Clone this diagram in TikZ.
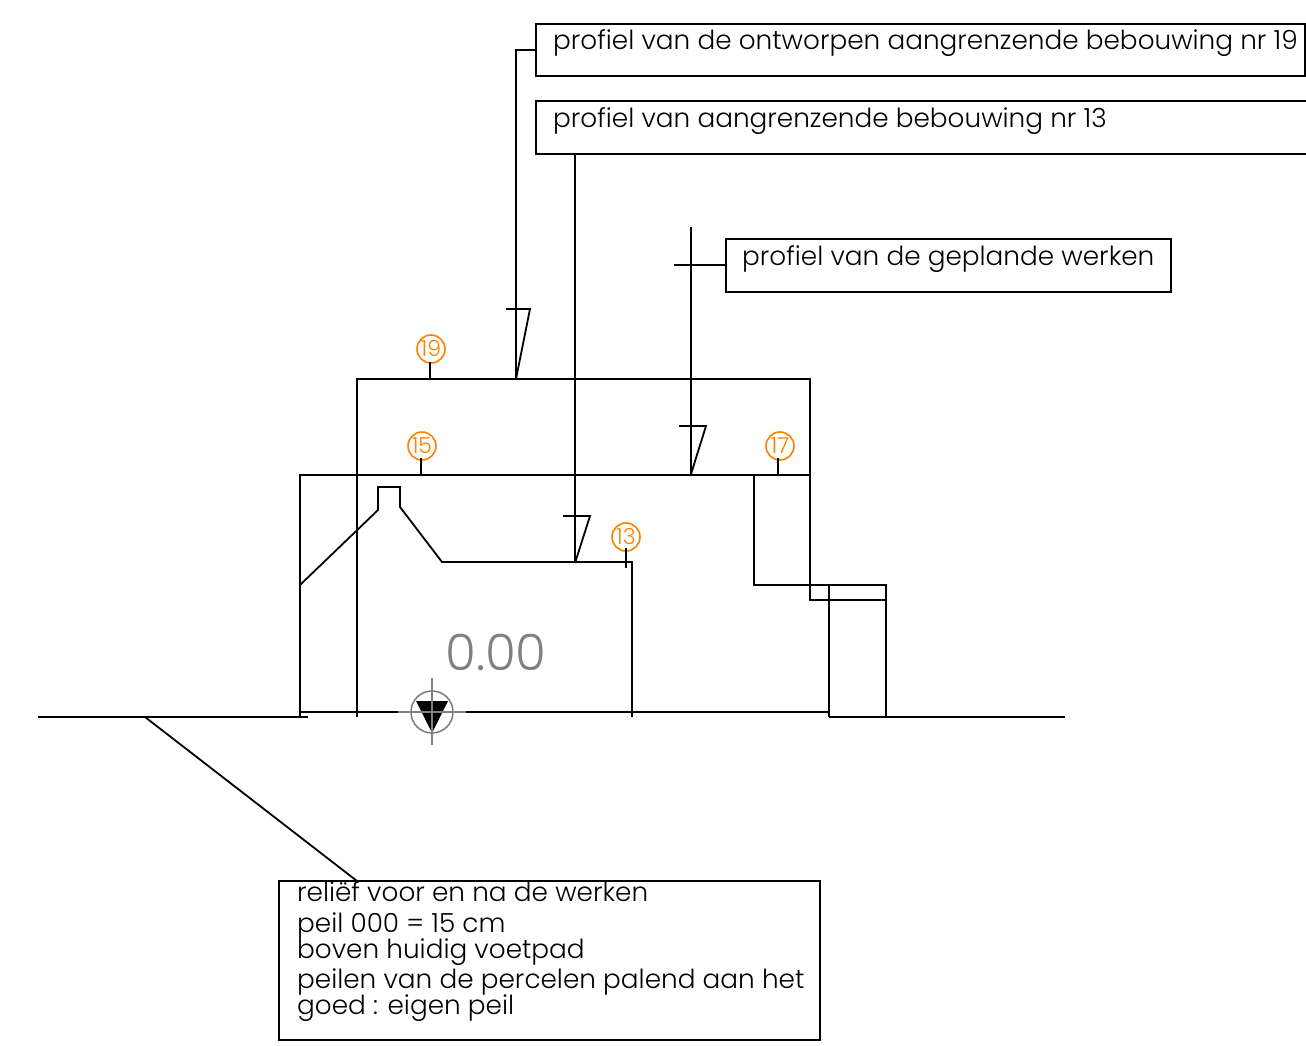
\documentclass[tikz,border=0pt]{standalone}
\usepackage{fontspec}
\setmainfont{Poppins Light}
\usetikzlibrary{positioning}
\definecolor{markorange}{RGB}{255,128,0}
\definecolor{peilgray}{RGB}{128,128,128}
\tikzset{
  wall/.style={line width=1.8pt, black, line join=miter},
  textbox/.style={draw, line width=1.7pt, anchor=north west, inner sep=0pt, outer sep=0pt},
  boxtext/.style={anchor=west, inner sep=0pt, font=\fontsize{26.3}{26}\selectfont},
  plotnr/.style={circle, draw=markorange, line width=1.6pt, text=markorange, minimum size=28pt, inner sep=0pt, font=\fontsize{22}{22}\selectfont},
}
\begin{document}
\begin{tikzpicture}[x=1pt, y=-1pt]
    \useasboundingbox (0,0) rectangle (1306,1046);

    % Ground line
    \draw[wall] (38,717) -- (308,717);
    \draw[wall] (829,717) -- (1065,717);

    % Profiles of the buildings
    \draw[wall] (300,717) -- (300,475) -- (810,475);
    \draw[wall] (357,717) -- (357,379) -- (810,379) -- (810,600) -- (886,600);
    \draw[wall] (754,475) -- (754,585) -- (886,585) -- (886,717);
    \draw[wall] (829,585) -- (829,717);
    \draw[wall] (300,712) -- (398,712) (466,712) -- (829,712);
    \draw[wall] (300,585) -- (378,510) -- (378,487) -- (400,487) -- (400,507) -- (442,562) -- (632,562) -- (632,717);

    % Text boxes
    \node[textbox, minimum width=769pt, minimum height=52pt] (box19) at (536,24) {};
    \node[textbox, minimum width=780pt, minimum height=53pt] (box13) at (536,101) {};
    \node[textbox, minimum width=445pt, minimum height=53pt] (boxwerken) at (726,239) {};
    \node[textbox, minimum width=541pt, minimum height=159pt] (boxrelief) at (279,881) {};

    \node[boxtext] (text19) at (553,43) {profiel van de ontworpen aangrenzende bebouwing nr 19};
    \node[boxtext] (text13) at (553,121) {profiel van aangrenzende bebouwing nr 13};
    \node[boxtext] (textwerken) at (742,259) {profiel van de geplande werken};

    % Lines of the lower box
    \foreach \i/\y/\t in {1/892/reliëf voor en na de werken, 2/926/peil 000 = 15 cm, 3/952/boven huidig voetpad, 4/982/peilen van de percelen palend aan het, 5/1008/goed : eigen peil} {
      \node[boxtext] (relief\i) at (297,\y) {\t};
    }

    % Leaders with their flags
    \coordinate (flag19) at (516,379);
    \coordinate (flag13) at (575,563);
    \coordinate (flagwerken) at (691,474);
    \coordinate (ground) at (145,717);
    \coordinate (stub) at (674,265);
    \draw[wall] (box19.west) -| (flag19);
    \draw[wall] (box13.south -| flag13) -- (flag13);
    \draw[wall] (stub -| boxwerken.west) -- (stub);
    \draw[wall] (691,227) -- (flagwerken);
    \draw[wall] (506,309) -- (530,309) -- (flag19);
    \draw[wall] (563,516) -- (590,516) -- (flag13);
    \draw[wall] (679,426) -- (706,426) -- (flagwerken);
    \draw[wall] (357,881) -- (ground);

    % Plot numbers
    \foreach \n/\x/\y/\tx/\ta/\tb in {19/431/349/430/362/379, 15/422/446/421/458/476, 17/780/446/778/458/476, 13/626/537/626/548/568} {
      \node[plotnr] (nr\n) at (\x,\y) {\n};
      \draw[wall] (\tx,\ta) -- (\tx,\tb);
    }

    % Level mark
    \node[text=peilgray, inner sep=0pt, font=\fontsize{50}{50}\selectfont] (peil) at (496,652) {0.00};
    \fill (416,701) -- (448,701) -- (432,733) -- cycle;
    \node[circle, draw=peilgray, line width=1.6pt, minimum size=42pt, inner sep=0pt] (mark) at (432,712) {};
    \draw[peilgray, line width=1.6pt] (398,712) -- (466,712) (432,678) -- (432,745);
\end{tikzpicture}
\end{document}
